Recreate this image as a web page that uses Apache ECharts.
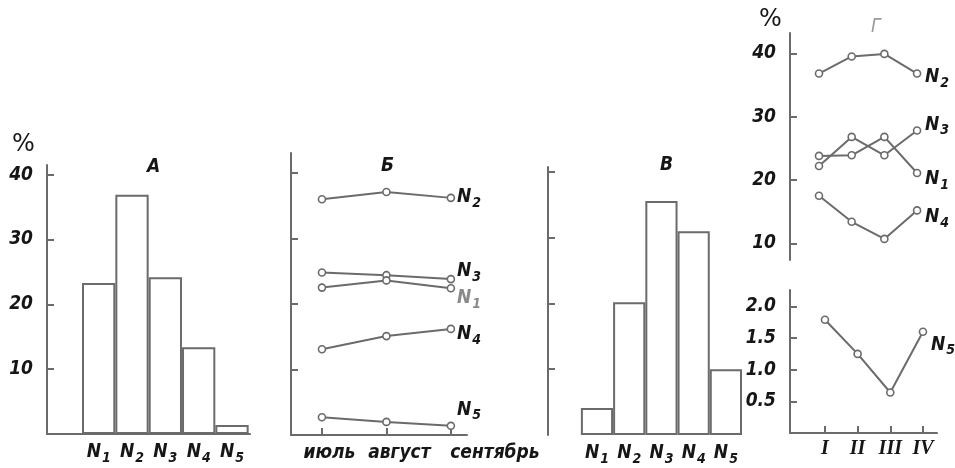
<!DOCTYPE html>
<html><head><meta charset="utf-8">
<script src="https://cdn.jsdelivr.net/npm/echarts@6/dist/echarts.min.js"></script>
<style>html,body{margin:0;padding:0;background:#fff}#c{width:955px;height:468px}</style>
</head><body><div id="c"></div>
<script>
// ---- data ----
const categories = ['N1', 'N2', 'N3', 'N4', 'N5'];
const valuesA = [23.3, 36.9, 24.2, 13.4, 1.4];
const valuesV = [4.1, 20.2, 35.6, 31.0, 10.0];
const months = ['июль', 'август', 'сентябрь'];
const monthN1 = [22.5, 23.6, 22.4];
const monthN2 = [36.0, 37.1, 36.2];
const monthN3 = [24.8, 24.4, 23.8];
const monthN4 = [13.1, 15.1, 16.2];
const monthN5 = [2.7, 2.0, 1.4];
const quarters = ['I', 'II', 'III', 'IV'];
const quarterN1 = [23.8, 23.9, 26.8, 21.1];
const quarterN2 = [36.8, 39.5, 39.9, 36.8];
const quarterN3 = [22.2, 26.8, 23.9, 27.8];
const quarterN4 = [17.5, 13.4, 10.7, 15.2];
const quarterN5 = [1.79, 1.25, 0.64, 1.60];
const pctTicks = [10, 20, 30, 40];
const smallTicks = [0.5, 1.0, 1.5, 2.0];

// ---- style ----
const FONT = 'DejaVu Sans Condensed';
const GRAY = '#6b6b6b';
const TXT = '#161616';
const LGRAY = '#8a8a8a';
const line = { color: GRAY, width: 2 };

function sub(name) { return '{n|' + name[0] + '}{s|' + name.slice(1) + '}'; }
function richN(color) {
  return {
    n: { fontFamily: FONT, fontStyle: 'italic', fontWeight: 'bold', fontSize: 19, color: color },
    s: { fontFamily: FONT, fontStyle: 'italic', fontWeight: 'bold', fontSize: 14, color: color, padding: [12, 0, 0, 1] }
  };
}
const numLabel = { fontFamily: FONT, fontStyle: 'italic', fontWeight: 'bold', fontSize: 19, color: TXT, margin: 14 };
const pos = arr => arr.map((v, i) => [i + 1, v]);

function lineSeries(name, data, xi, dy, dist, color) {
  return {
    type: 'line', name: name, xAxisIndex: xi, yAxisIndex: xi,
    data: pos(data), symbol: 'circle', symbolSize: 7,
    lineStyle: { color: GRAY, width: 2 },
    itemStyle: { color: '#fff', borderColor: GRAY, borderWidth: 1.6 },
    emphasis: { disabled: true }, animation: false,
    endLabel: { show: true, formatter: sub(name), rich: richN(color || TXT), distance: dist, offset: [0, dy] }
  };
}
function barSeries(data, xi, w) {
  return {
    type: 'bar', xAxisIndex: xi, yAxisIndex: xi, data: pos(data), barWidth: w,
    itemStyle: { color: '#fff', borderColor: GRAY, borderWidth: 2 },
    emphasis: { disabled: true }, animation: false
  };
}

const chart = echarts.init(document.getElementById('c'), null, { renderer: 'canvas' });
const titleStyle = { fontFamily: FONT, fontStyle: 'italic', fontSize: 19, color: TXT, fontWeight: 'bold' };
const pctStyle = { fontFamily: 'DejaVu Sans', fontSize: 24, color: TXT, fontWeight: 'normal' };
const yLine = { show: true, onZero: false, lineStyle: line };
chart.setOption({
  animation: false,
  backgroundColor: '#fff',
  title: [
    { text: '%', left: 12, top: 133, padding: 0, textStyle: pctStyle },
    { text: 'А', left: 147, top: 158, padding: 0, textStyle: titleStyle },
    { text: 'Б', left: 381, top: 157, padding: 0, textStyle: titleStyle },
    { text: 'В', left: 660, top: 156, padding: 0, textStyle: titleStyle },
    { text: '%', left: 759, top: 8, padding: 0, textStyle: pctStyle },
    { text: 'Г', left: 871, top: 18, padding: 0, textStyle: Object.assign({}, titleStyle, { color: '#9a9a9a', fontWeight: 'normal' }) }
  ],
  grid: [
    { left: 47, top: 165, width: 203, height: 269, containLabel: false, outerBoundsMode: 'none' },
    { left: 291, top: 153, width: 176, height: 282, containLabel: false, outerBoundsMode: 'none' },
    { left: 548, top: 167, width: 194, height: 268, containLabel: false, outerBoundsMode: 'none' },
    { left: 790, top: 33, width: 147, height: 227, containLabel: false, outerBoundsMode: 'none' },
    { left: 790, top: 290, width: 147, height: 143, containLabel: false, outerBoundsMode: 'none' }
  ],
  xAxis: [
    { gridIndex: 0, type: 'value', min: -0.55, max: 5.54,
      axisLine: { show: true, onZero: false, lineStyle: line }, axisTick: { show: false }, splitLine: { show: false },
      axisLabel: { customValues: [1, 2, 3, 4, 5], formatter: v => sub(categories[Math.round(v) - 1]), rich: richN(TXT), margin: 5 } },
    { gridIndex: 1, type: 'value', min: 0.52, max: 3.25,
      axisLine: { show: true, onZero: false, lineStyle: line },
      axisTick: { show: true, inside: true, length: 7, customValues: [1, 2, 3], lineStyle: line }, splitLine: { show: false },
      axisLabel: { customValues: [1, 2, 3], margin: 9,
        formatter: v => '{m' + (Math.round(v) - 1) + '|' + months[Math.round(v) - 1] + '}',
        rich: {
          m0: { fontFamily: FONT, fontStyle: 'italic', fontWeight: 'bold', fontSize: 19, color: TXT, padding: [0, 0, 0, 15] },
          m1: { fontFamily: FONT, fontStyle: 'italic', fontWeight: 'bold', fontSize: 19, color: TXT, padding: [0, 0, 0, 26] },
          m2: { fontFamily: FONT, fontStyle: 'italic', fontWeight: 'bold', fontSize: 19, color: TXT, padding: [0, 0, 0, 88] }
        } } },
    { gridIndex: 2, type: 'value', min: -0.52, max: 5.5,
      axisLine: { show: false }, axisTick: { show: false }, splitLine: { show: false },
      axisLabel: { customValues: [1, 2, 3, 4, 5], formatter: v => sub(categories[Math.round(v) - 1]), rich: richN(TXT), margin: 5 } },
    { gridIndex: 3, type: 'value', min: 0.113, max: 4.61, show: false },
    { gridIndex: 4, type: 'value', min: -0.07, max: 4.43,
      axisLine: { show: true, onZero: false, lineStyle: line },
      axisTick: { show: true, inside: true, length: 7, customValues: [1, 2, 3, 4], lineStyle: line }, splitLine: { show: false },
      axisLabel: { customValues: [1, 2, 3, 4], formatter: v => quarters[Math.round(v) - 1],
        fontFamily: 'Liberation Serif', fontStyle: 'italic', fontWeight: 'bold', fontSize: 20, color: TXT, margin: 6 } }
  ],
  yAxis: [
    { gridIndex: 0, type: 'value', min: 0, max: 41.5,
      axisLine: yLine, splitLine: { show: false },
      axisTick: { show: true, inside: true, length: 7, customValues: pctTicks, lineStyle: line },
      axisLabel: Object.assign({ customValues: pctTicks }, numLabel) },
    { gridIndex: 1, type: 'value', min: 0, max: 43.05,
      axisLine: yLine, splitLine: { show: false },
      axisTick: { show: true, inside: true, length: 7, customValues: pctTicks, lineStyle: line },
      axisLabel: { show: false } },
    { gridIndex: 2, type: 'value', min: 0, max: 40.76,
      axisLine: yLine, splitLine: { show: false },
      axisTick: { show: true, inside: true, length: 7, customValues: pctTicks, lineStyle: line },
      axisLabel: { show: false } },
    { gridIndex: 3, type: 'value', min: 7.37, max: 43.2,
      axisLine: yLine, splitLine: { show: false },
      axisTick: { show: true, inside: true, length: 7, customValues: pctTicks, lineStyle: line },
      axisLabel: Object.assign({ customValues: pctTicks }, numLabel, { color: v => (v === 40 ? LGRAY : TXT) }) },
    { gridIndex: 4, type: 'value', min: 0, max: 2.26,
      axisLine: yLine, splitLine: { show: false },
      axisTick: { show: true, inside: true, length: 7, customValues: smallTicks, lineStyle: line },
      axisLabel: Object.assign({ customValues: smallTicks, formatter: v => v.toFixed(1) }, numLabel) }
  ],
  series: [
    barSeries(valuesA, 0, 33.3),
    lineSeries('N2', monthN2, 1, -1, 6),
    lineSeries('N3', monthN3, 1, -8, 6),
    lineSeries('N1', monthN1, 1, 10, 6, LGRAY),
    lineSeries('N4', monthN4, 1, 5, 6),
    lineSeries('N5', monthN5, 1, -16, 6),
    barSeries(valuesV, 2, 32.2),
    lineSeries('N2', quarterN2, 3, 4, 8),
    lineSeries('N3', quarterN3, 3, -6, 8),
    lineSeries('N1', quarterN1, 3, 6, 8),
    lineSeries('N4', quarterN4, 3, 7, 8),
    lineSeries('N5', quarterN5, 4, 13, 8)
  ]
});
</script>
</body></html>
